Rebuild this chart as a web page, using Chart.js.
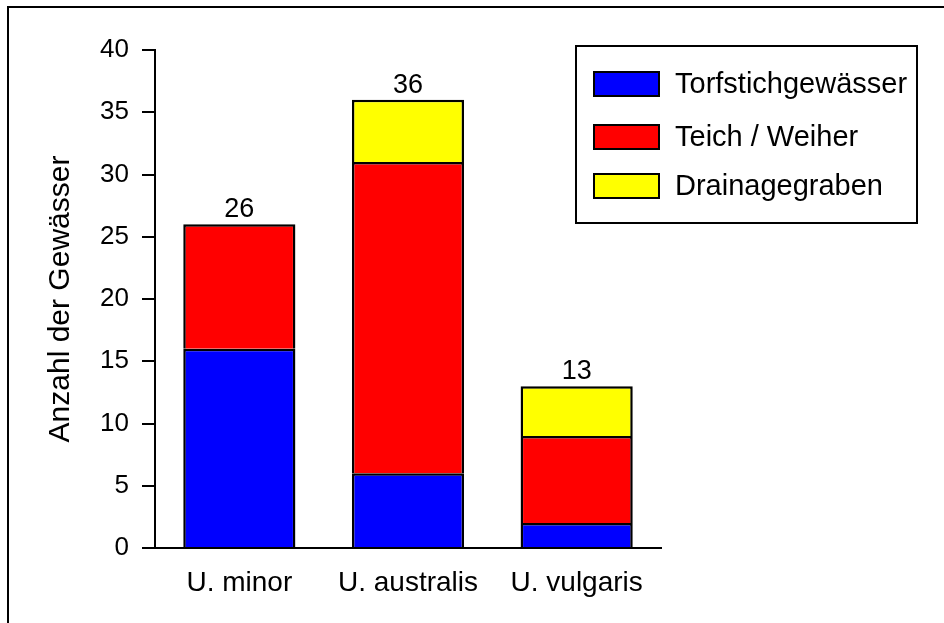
<!DOCTYPE html>
<html lang="de">
<head>
<meta charset="UTF-8">
<title>Anzahl der Gewässer</title>
<script src="https://cdn.jsdelivr.net/npm/chart.js"></script>
<style>
  html, body { margin: 0; padding: 0; background: #fff; }
  #wrap { position: relative; width: 944px; height: 623px; overflow: hidden; }
  #frame { position: absolute; left: 7px; top: 6px; right: -10px; bottom: -10px;
           border-top: 2px solid #000; border-left: 2px solid #000; }
  #myChart { position: absolute; left: 0; top: 0; }
</style>
</head>
<body>
<div id="wrap">
  <div id="frame"></div>
  <canvas id="myChart" width="944" height="623"></canvas>
</div>
<script>
    // Daten
    const arten = ['U. minor', 'U. australis', 'U. vulgaris'];
    const torfstich = [16, 6, 2];
    const teich = [10, 25, 7];
    const drainage = [0, 5, 4];
    const yTicks = [0, 5, 10, 15, 20, 25, 30, 35, 40];

    const font = 'Liberation Sans, Arial, sans-serif';

    // Summen über den Balken + Legende im Kasten
    const extras = {
        id: 'extras',
        afterDraw(chart) {
            const ctx = chart.ctx;
            const x = chart.scales.x, y = chart.scales.y;
            ctx.save();
            ctx.fillStyle = '#000';
            ctx.font = '27px ' + font;
            ctx.textAlign = 'center';
            ctx.textBaseline = 'alphabetic';
            arten.forEach((a, i) => {
                const sum = chart.data.datasets.reduce((s, d) => s + d.data[i], 0);
                ctx.fillText(String(sum), x.getPixelForValue(i), y.getPixelForValue(sum) - 7);
            });

            // Legende
            ctx.lineWidth = 2;
            ctx.strokeStyle = '#000';
            ctx.fillStyle = '#fff';
            ctx.fillRect(576, 46, 341, 177);
            ctx.strokeRect(576, 46, 341, 177);
            const rows = [84, 137, 186];
            ctx.font = '29px ' + font;
            ctx.textAlign = 'left';
            ctx.textBaseline = 'middle';
            chart.data.datasets.forEach((d, i) => {
                ctx.fillStyle = d.backgroundColor;
                ctx.fillRect(594, rows[i] - 12, 65, 24);
                ctx.strokeRect(594, rows[i] - 12, 65, 24);
                ctx.fillStyle = '#000';
                ctx.fillText(d.label, 675, rows[i] + 1);
            });
            ctx.restore();
        }
    };

    const ctx = document.getElementById('myChart').getContext('2d');
    const common = {
        borderColor: '#000',
        borderWidth: { top: 2.5, left: 2.5, right: 2.5, bottom: 0 },
        borderSkipped: false,
        barPercentage: 0.665,
        categoryPercentage: 1.0
    };

    new Chart(ctx, {
        type: 'bar',
        data: {
            labels: arten,
            datasets: [
                Object.assign({ label: 'Torfstichgewässer', data: torfstich, backgroundColor: '#0000ff' }, common),
                Object.assign({ label: 'Teich / Weiher', data: teich, backgroundColor: '#ff0000' }, common),
                Object.assign({ label: 'Drainagegraben', data: drainage, backgroundColor: '#ffff00' }, common)
            ]
        },
        options: {
            responsive: false,
            animation: false,
            layout: { padding: { top: 50, right: 283, bottom: 0, left: 0 } },
            plugins: {
                legend: { display: false },
                tooltip: { enabled: false }
            },
            scales: {
                x: {
                    stacked: true,
                    grid: { display: false },
                    border: { display: true, color: '#000', width: 2 },
                    ticks: { color: '#000', font: { family: font, size: 28 }, padding: 10 },
                    afterFit(s) { s.height = 75; }
                },
                y: {
                    stacked: true,
                    min: 0,
                    max: 40,
                    afterBuildTicks(s) { s.ticks = yTicks.map(v => ({ value: v })); },
                    grid: { drawOnChartArea: false, drawTicks: true, tickLength: 13, color: '#000', lineWidth: 2 },
                    border: { display: true, color: '#000', width: 2 },
                    ticks: { color: '#000', font: { family: font, size: 26 }, padding: 13 },
                    title: {
                        display: true,
                        text: 'Anzahl der Gewässer',
                        color: '#000',
                        font: { family: font, size: 30 },
                        padding: { top: 43, bottom: 0 }
                    },
                    afterFit(s) { s.width = 155; }
                }
            }
        },
        plugins: [extras]
    });
</script>
</body>
</html>
